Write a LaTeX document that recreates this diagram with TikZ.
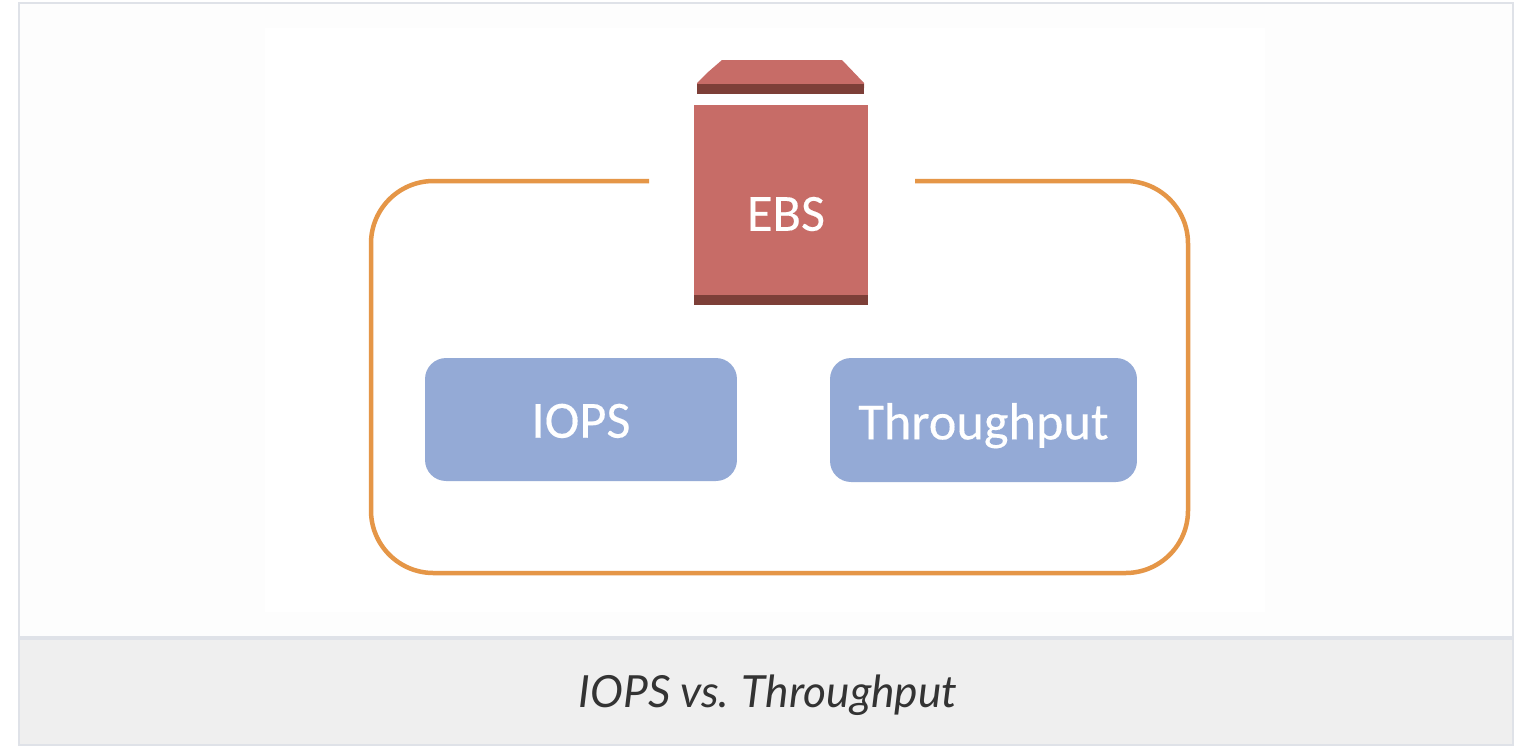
\documentclass[tikz,border=0pt]{standalone}
\usepackage{fontspec}
\setmainfont{Carlito}
\newfontfamily\boxfont[FakeBold=0.25]{Carlito}
\newfontfamily\captionfont[WordSpace=0.9]{Lato}
\usetikzlibrary{positioning}
\definecolor{framegrey}{HTML}{DFE2E8}
\definecolor{panelgrey}{HTML}{EFEFEF}
\definecolor{panelwhite}{HTML}{FDFDFD}
\definecolor{ebsred}{HTML}{C76C67}
\definecolor{ebsdark}{HTML}{7D3F38}
\definecolor{ringorange}{HTML}{E59647}
\definecolor{metricblue}{HTML}{94AAD6}
\definecolor{captiongrey}{HTML}{333333}

\begin{document}
\begin{tikzpicture}[x=0.02cm, y=-0.02cm,
    panel/.style={draw=framegrey, line width=0.045cm},
    metric/.style={rectangle, rounded corners=0.42cm, fill=metricblue, text=white, inner sep=0pt, font=\boxfont\fontsize{29.8}{30}\selectfont},
    ring/.style={draw=ringorange, line width=0.09cm, rounded corners=1.25cm}]
        \useasboundingbox (0,0) rectangle (1532,752);
        \fill[white] (0,0) rectangle (1532,752);

        % frame and caption
        \path[panel, fill=panelwhite] (19,3) rectangle (1513,637);
        \path[panel, fill=panelgrey] (19,639) rectangle (1513,745);
        \fill[white] (265,28) rectangle (1265,612);
        \node[text=captiongrey, font=\captionfont\itshape\fontsize{25.2}{26}\selectfont] (cap) at (768,695) {IOPS vs. Throughput};

        % bucket
        \node[rectangle, fill=ebsred, minimum width=3.48cm, minimum height=4cm, inner sep=0pt] (ebs) at (781,205) {};
        \node[rectangle, fill=ebsdark, minimum width=3.48cm, minimum height=0.2cm, inner sep=0pt] (base) at (781,300) {};
        \coordinate (lidl) at (697,88);
        \coordinate (lidr) at (864,88);
        \fill[ebsred] (lidl) -- (697,83) -- (707,73) -- (722,60) -- (842,60) -- (864,83) -- (lidr) -- cycle;
        \node[rectangle, fill=ebsdark, minimum width=3.34cm, minimum height=0.2cm, inner sep=0pt] (rim) at (780.5,89) {};
        \node[text=white, font=\boxfont\fontsize{29.8}{30}\selectfont] (ebstext) at (786,214) {EBS};

        % metrics
        \node[metric, minimum width=6.24cm, minimum height=2.46cm, text depth=0pt] (iops) at (581,419.5) {\raisebox{-1.4pt}{IOPS}};
        \node[metric, minimum width=6.14cm, minimum height=2.48cm, text depth=0pt] (tput) at (983.5,420) {\raisebox{-1.4pt}{Throughput}};

        % ring with gap round the bucket
        \coordinate (gapl) at (649,181);
        \coordinate (gapr) at (915,181);
        \draw[ring] (gapl) -- (371,181) -- (371,573) -- (1188,573) -- (1188,181) -- (gapr);
\end{tikzpicture}
\end{document}
